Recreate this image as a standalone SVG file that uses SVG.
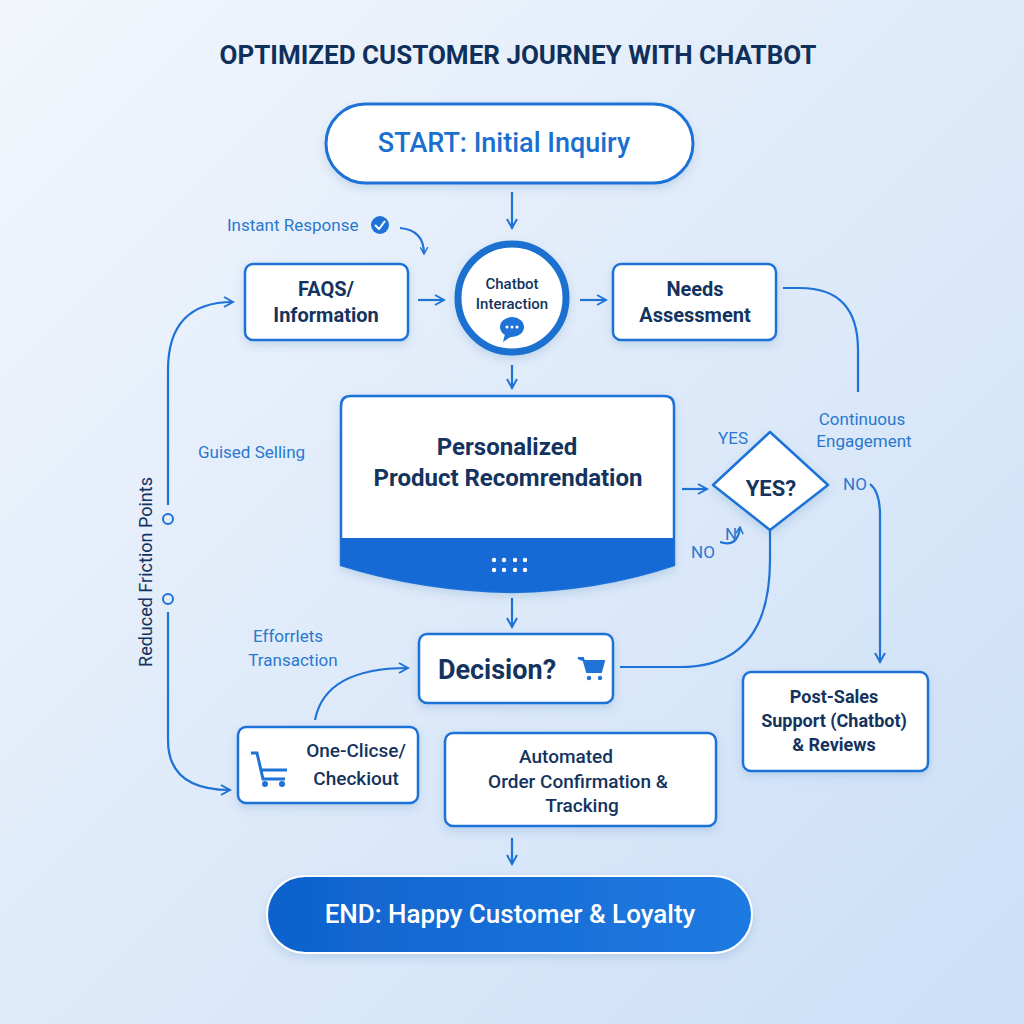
<svg xmlns="http://www.w3.org/2000/svg" width="1024" height="1024" viewBox="0 0 1024 1024">
<defs>
<linearGradient id="bg" x1="0" y1="0" x2="1" y2="1"><stop offset="0" stop-color="#f2f6fc"/><stop offset="1" stop-color="#cbdff7"/></linearGradient>
<linearGradient id="endg" x1="0" y1="0" x2="1" y2="0"><stop offset="0" stop-color="#0f62cc"/><stop offset="1" stop-color="#1f7ae0"/></linearGradient>
<filter id="sh" x="-20%" y="-20%" width="140%" height="150%"><feDropShadow dx="0" dy="4" stdDeviation="5" flood-color="#1a4f9a" flood-opacity="0.15"/></filter>
<marker id="ah" viewBox="0 0 12 12" refX="10" refY="6" markerWidth="12" markerHeight="12" markerUnits="userSpaceOnUse" orient="auto"><path d="M1,1 L10,6 L1,11" fill="none" stroke="#1f72d6" stroke-width="2"/></marker>
<marker id="ahs" viewBox="0 0 12 12" refX="10" refY="6" markerWidth="9" markerHeight="9" markerUnits="userSpaceOnUse" orient="auto"><path d="M1,1 L10,6 L1,11" fill="none" stroke="#1f72d6" stroke-width="2"/></marker>
</defs>
<style>
.box{fill:#fff;stroke:#1f72d6;stroke-width:2.5;filter:url(#sh)}
.t{font-family:Roboto,"Liberation Sans",sans-serif;font-weight:700;fill:#14335e;text-anchor:middle}
.m{font-weight:500}
.n{font-weight:400}
.l{font-family:Roboto,"Liberation Sans",sans-serif;fill:#2a78cf;font-size:17px}
.c{fill:none;stroke:#1f72d6;stroke-width:2.2}
</style>
<rect width="1024" height="1024" fill="url(#bg)"/>
<text x="518" y="64" class="t" font-size="26" style="fill:#10305c">OPTIMIZED CUSTOMER JOURNEY WITH CHATBOT</text>

<g id="connectors">
<path class="c" d="M512,192 V228" marker-end="url(#ah)"/>
<path class="c" d="M400,228 Q424,230 424,254" marker-end="url(#ahs)"/>
<path class="c" d="M418,300 H444" marker-end="url(#ah)"/>
<path class="c" d="M580,300 H606" marker-end="url(#ah)"/>
<path class="c" d="M512,365 V388" marker-end="url(#ah)"/>
<path class="c" d="M682,489 H707" marker-end="url(#ah)"/>
<path class="c" d="M783,288 H800 Q858,288 858,350 V392"/>
<path class="c" d="M870,484 Q880,492 880,515 V662" marker-end="url(#ah)"/>
<path class="c" d="M770,528 V560 Q770,667 680,667 H620"/>
<path class="c" d="M720,542 Q738,548 740,527" marker-end="url(#ahs)"/>
<path class="c" d="M512,598 V627" marker-end="url(#ah)"/>
<path class="c" d="M315,720 Q325,668 408,668" marker-end="url(#ah)"/>
<path class="c" d="M168,505 V370 Q168,302 233,302" marker-end="url(#ah)"/>
<path class="c" d="M168,612 V740 Q168,790 230,790" marker-end="url(#ah)"/>
<circle cx="168" cy="519" r="5" fill="none" stroke="#1f72d6" stroke-width="2"/>
<circle cx="168" cy="599" r="5" fill="none" stroke="#1f72d6" stroke-width="2"/>
<path class="c" d="M512,838 V864" marker-end="url(#ah)"/>
</g>

<g id="labels">
<text x="227" y="231" class="l">Instant Response</text>
<circle cx="380" cy="225" r="9" fill="#1f72d6"/>
<path d="M375,225 L379,229 L385,221" fill="none" stroke="#fff" stroke-width="2"/>
<text x="198" y="458" class="l">Guised Selling</text>
<text x="733" y="444" class="l" font-size="15" text-anchor="middle">YES</text>
<text x="855" y="490" class="l" font-size="15" text-anchor="middle">NO</text>
<text x="703" y="558" class="l" font-size="15" text-anchor="middle">NO</text>
<text x="731" y="540" class="l" font-size="10" text-anchor="middle">N</text>
<text x="862" y="425" class="l" text-anchor="middle">Continuous</text>
<text x="864" y="447" class="l" text-anchor="middle">Engagement</text>
<text x="288" y="642" class="l" text-anchor="middle">Efforrlets</text>
<text x="293" y="666" class="l" text-anchor="middle">Transaction</text>
<text transform="translate(152,572) rotate(-90)" class="t n" font-size="18">Reduced Friction Points</text>
</g>

<g id="start"><rect x="326" y="104" width="367" height="79" rx="39.5" class="box" style="stroke-width:3"/>
<text x="504" y="152" class="t m" font-size="27" style="fill:#1a6fd0">START: Initial Inquiry</text></g>

<g id="faqs"><rect x="245" y="264" width="163" height="76" rx="8" class="box"/>
<text x="326" y="296" class="t" font-size="20">FAQS/</text><text x="326" y="322" class="t" font-size="20">Information</text></g>

<g id="chatbot"><circle cx="512" cy="298" r="54" fill="#fff" stroke="#1a6fd0" stroke-width="7" filter="url(#sh)"/>
<text x="512" y="289" class="t m" font-size="15">Chatbot</text>
<text x="512" y="309" class="t m" font-size="15">Interaction</text>
<ellipse cx="512" cy="327" rx="12" ry="10" fill="#1f72d6"/><path d="M505,334 L503,342 L512,336 Z" fill="#1f72d6"/>
<circle cx="507" cy="327" r="1.5" fill="#fff"/><circle cx="512" cy="327" r="1.5" fill="#fff"/><circle cx="517" cy="327" r="1.5" fill="#fff"/></g>

<g id="needs"><rect x="613" y="264" width="163" height="76" rx="8" class="box"/>
<text x="695" y="296" class="t" font-size="20">Needs</text><text x="695" y="322" class="t" font-size="20">Assessment</text></g>

<g id="recommend">
<path d="M351,396 H664 Q674,396 674,406 V565 Q600,590 512,592 Q420,590 341,565 V406 Q341,396 351,396 Z" fill="#fff" stroke="#1f72d6" stroke-width="2.5" filter="url(#sh)"/>
<path d="M341,538 H674 V565 Q600,590 512,592 Q420,590 341,565 Z" fill="#1769d5"/>
<text x="507" y="455" class="t" font-size="24">Personalized</text>
<text x="508" y="486" class="t" font-size="24">Product Recomrendation</text>
<g fill="#fff"><circle cx="494" cy="560" r="2.2"/><circle cx="504" cy="560" r="2.2"/><circle cx="515" cy="560" r="2.2"/><circle cx="525" cy="560" r="2.2"/><circle cx="494" cy="570" r="2.2"/><circle cx="504" cy="570" r="2.2"/><circle cx="515" cy="570" r="2.2"/><circle cx="525" cy="570" r="2.2"/></g>
</g>

<g id="yes"><path d="M770,432 L828,485 L770,530 L713,485 Z" stroke-linejoin="round" class="box"/>
<text x="771" y="496" class="t" font-size="22">YES?</text></g>

<g id="decision"><rect x="419" y="634" width="194" height="69" rx="8" class="box"/>
<text x="497" y="679" class="t" font-size="27">Decision?</text>
<path d="M578,658 H583 L587,672 H601 L604,661 H585 Z" fill="#1f72d6" stroke="#1f72d6" stroke-width="2"/>
<circle cx="589" cy="678" r="2.2" fill="#1f72d6"/><circle cx="600" cy="678" r="2.2" fill="#1f72d6"/></g>

<g id="postsales"><rect x="743" y="672" width="185" height="99" rx="8" class="box"/>
<text x="834" y="703" class="t" font-size="18">Post-Sales</text><text x="834" y="727" class="t" font-size="18">Support (Chatbot)</text><text x="834" y="751" class="t" font-size="18">&amp; Reviews</text></g>

<g id="oneclick"><rect x="238" y="727" width="180" height="76" rx="8" class="box"/>
<path d="M251,753 H257 L263,779 H285 M261,770 H287" fill="none" stroke="#1f72d6" stroke-width="3"/>
<circle cx="265" cy="784" r="3" fill="#1f72d6"/><circle cx="282" cy="784" r="3" fill="#1f72d6"/>
<text x="356" y="757" class="t m" font-size="19">One-Clicse/</text><text x="356" y="785" class="t m" font-size="19">Checkiout</text></g>

<g id="automated"><rect x="445" y="733" width="271" height="93" rx="8" class="box"/>
<text x="566" y="763" class="t m" font-size="19">Automated</text><text x="578" y="788" class="t m" font-size="19">Order Confirmation &amp;</text><text x="582" y="812" class="t m" font-size="19">Tracking</text></g>

<g id="end"><rect x="267" y="876" width="485" height="77" rx="38.5" fill="url(#endg)" stroke="#fff" stroke-width="2" filter="url(#sh)"/>
<text x="510" y="923" class="t m" font-size="26" style="fill:#fff">END: Happy Customer &amp; Loyalty</text></g>
</svg>
